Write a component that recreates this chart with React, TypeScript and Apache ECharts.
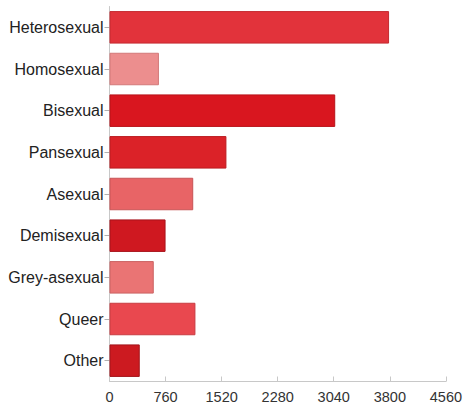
import React, { useEffect, useRef } from "react";
import * as echarts from "echarts";

const categories = ["Heterosexual", "Homosexual", "Bisexual", "Pansexual", "Asexual", "Demisexual", "Grey-asexual", "Queer", "Other"];
const counts = [3790, 670, 3060, 1585, 1135, 760, 600, 1165, 410];
const barColors = ["#e2333b", "#ec8e8e", "#d9161f", "#db2228", "#e86466", "#cf1820", "#ea7474", "#e9484f", "#cc1a20"];
const borderColors = ["#c42a30", "#d27878", "#b81219", "#bb1c20", "#c85456", "#a8121a", "#ca6262", "#c83c42", "#a3141a"];
const xTicks = [0, 760, 1520, 2280, 3040, 3800, 4560];

export default function App() {
  const ref = useRef<HTMLDivElement>(null);
  useEffect(() => {
    if (!ref.current) return;
    const chart = echarts.init(ref.current, null, { renderer: "svg" });
    chart.setOption({
      animation: false,
      backgroundColor: "#ffffff",
      grid: { left: 109.5, right: 18.5, top: 6.5, bottom: 27.5, containLabel: false },
      xAxis: {
        type: "value",
        min: xTicks[0],
        max: xTicks[xTicks.length - 1],
        interval: 760,
        axisLine: { show: true, lineStyle: { color: "#c8c8c8", width: 1 } },
        axisTick: { show: true, inside: true, length: 5, lineStyle: { color: "#c8c8c8" } },
        splitLine: { show: false },
        axisLabel: {
          color: "#333",
          fontSize: 14.5,
          fontFamily: "Liberation Sans, Arial, sans-serif",
          margin: 8,
          formatter: (v: number) => String(v),
        },
      },
      yAxis: {
        type: "category",
        data: categories,
        inverse: true,
        axisLine: { show: true, lineStyle: { color: "#c8c8c8", width: 1 } },
        axisTick: { show: true, alignWithLabel: true, length: 5, lineStyle: { color: "#b0b0b0" } },
        axisLabel: { color: "#222", fontSize: 16, fontFamily: "Liberation Sans, Arial, sans-serif", margin: 6 },
      },
      series: [
        {
          type: "bar",
          barCategoryGap: "22%",
          data: counts.map((v, i) => ({
            value: v,
            itemStyle: { color: barColors[i], borderColor: borderColors[i], borderWidth: 1 },
          })),
        },
      ],
    });
    return () => chart.dispose();
  }, []);
  return <div ref={ref} style={{ width: 465, height: 409, position: "absolute", left: 0, top: 0 }} />;
}
